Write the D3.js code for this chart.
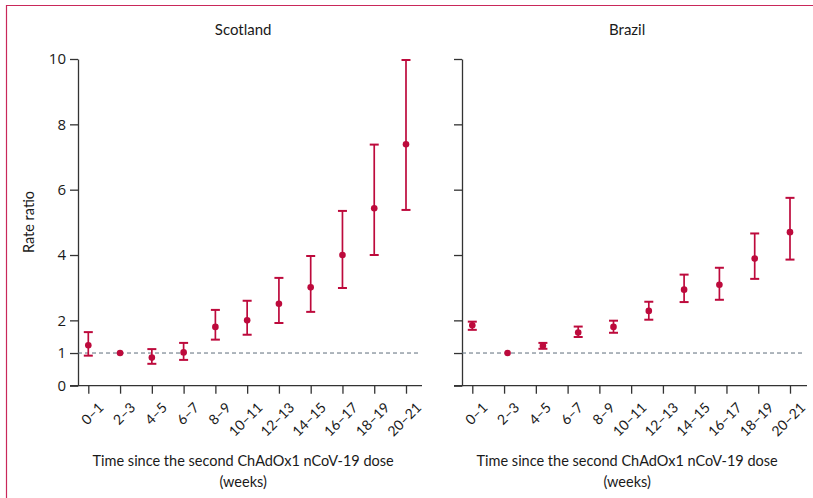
<!DOCTYPE html>
<html>
<head>
<meta charset="utf-8">
<script src="https://cdn.jsdelivr.net/npm/d3@7"></script>
<style>
  body { margin: 0; background: #fff; }
  text { font-family: Lato, "Open Sans", sans-serif; fill: #1a1a1a; }
</style>
</head>
<body>
<div id="chart"></div>
<script>
  // data
  var weeks = ['0\u20131', '2\u20133', '4\u20135', '6\u20137', '8\u20139', '10\u201311',
      '12\u201313', '14\u201315', '16\u201317', '18\u201319', '20\u201321'];
  var yTicks = [0, 1, 2, 4, 6, 8, 10];

  var scotRR = [1.24, 1.00, 0.86, 1.02, 1.80, 2.00, 2.51, 3.01, 4.00, 5.43, 7.39];
  var scotLo = [0.92, null, 0.67, 0.79, 1.41, 1.56, 1.92, 2.26, 2.99, 4.00, 5.38];
  var scotHi = [1.64, null, 1.12, 1.31, 2.32, 2.60, 3.30, 3.97, 5.35, 7.38, 9.97];

  // Brazil has 10 estimates spread over the same axis
  var brazRR = [1.85, 1.00, 1.22, 1.63, 1.80, 2.29, 2.94, 3.09, 3.89, 4.70];
  var brazLo = [1.71, null, 1.13, 1.49, 1.62, 2.02, 2.56, 2.63, 3.27, 3.86];
  var brazHi = [1.96, null, 1.31, 1.81, 1.99, 2.57, 3.40, 3.61, 4.66, 5.75];

  var width = 813, height = 498;
  var red = '#bd0a3c';

  var svg = d3.select('#chart').append('svg')
      .attr('width', width)
      .attr('height', height);

  // frame
  svg.append('path')
      .attr('d', 'M6.5,498V5.5H813')
      .attr('fill', 'none')
      .attr('stroke', '#c9285a')
      .attr('stroke-width', 1.2);

  var y = d3.scaleLinear().domain([0, 10]).range([385.7, 59]);

  var panels = [
      { name: 'Scotland', axisX: 78, right: 422, first: 88.3, last: 406, rr: scotRR, lo: scotLo, hi: scotHi, labels: true },
      { name: 'Brazil', axisX: 462, right: 807, first: 472.3, last: 790, rr: brazRR, lo: brazLo, hi: brazHi, labels: false }
  ];

  panels.forEach(function(p) {
      var g = svg.append('g');
      var x = d3.scalePoint().domain(weeks).range([p.first, p.last]);
      var xp = d3.scalePoint().domain(d3.range(p.rr.length)).range([p.first, p.last]);
      var cx = (p.first + p.last) / 2 - 4;

      // title
      g.append('text')
          .attr('x', cx)
          .attr('y', 35)
          .attr('text-anchor', 'middle')
          .style('font-size', '15px')
          .text(p.name);

      // y axis
      var ya = g.append('g')
          .attr('transform', 'translate(' + p.axisX + ',0)')
          .call(d3.axisLeft(y).tickValues(yTicks).tickSize(8).tickSizeOuter(0).tickPadding(4));
      ya.selectAll('path, line').attr('stroke', '#333').attr('stroke-width', 1.3);
      ya.selectAll('text')
          .style('font-family', '"Open Sans", sans-serif')
          .style('font-size', '15px')
          .attr('fill', '#333');
      if (!p.labels) ya.selectAll('text').remove();

      // x axis
      var xa = g.append('g')
          .attr('transform', 'translate(0,' + y(0) + ')')
          .call(d3.axisBottom(x).tickSize(8).tickSizeOuter(0));
      xa.select('.domain').remove();
      xa.append('line')
          .attr('x1', p.axisX - 8).attr('x2', p.right);
      xa.selectAll('line').attr('stroke', '#333').attr('stroke-width', 1.3);
      xa.selectAll('text')
          .style('font-size', '14px')
          .attr('fill', '#222')
          .attr('text-anchor', 'end')
          .attr('dy', null)
          .attr('transform', 'translate(8,15) rotate(-45)');

      // axis title
      g.append('text')
          .attr('x', cx).attr('y', 466)
          .attr('text-anchor', 'middle')
          .style('font-size', '14.5px')
          .text('Time since the second ChAdOx1 nCoV-19 dose');
      g.append('text')
          .attr('x', cx).attr('y', 487)
          .attr('text-anchor', 'middle')
          .style('font-size', '14.5px')
          .text('(weeks)');

      // reference line at 1
      g.append('line')
          .attr('x1', p.axisX).attr('x2', p.right - 3)
          .attr('y1', y(1)).attr('y2', y(1))
          .attr('stroke', '#5d6d7a')
          .attr('stroke-width', 1)
          .attr('stroke-dasharray', '4,3');

      // error bars
      var idx = d3.range(p.rr.length).filter(function(i) { return p.lo[i] != null; });
      var bars = g.selectAll('.bar').data(idx).enter().append('g');
      bars.append('line')
          .attr('x1', function(i) { return xp(i); })
          .attr('x2', function(i) { return xp(i); })
          .attr('y1', function(i) { return y(p.lo[i]); })
          .attr('y2', function(i) { return y(p.hi[i]); })
          .attr('stroke', red).attr('stroke-width', 1.7);
      ['lo', 'hi'].forEach(function(k) {
          bars.append('line')
              .attr('x1', function(i) { return xp(i) - 4.5; })
              .attr('x2', function(i) { return xp(i) + 4.5; })
              .attr('y1', function(i) { return y(p[k][i]); })
              .attr('y2', function(i) { return y(p[k][i]); })
              .attr('stroke', red).attr('stroke-width', 2);
      });

      // points
      g.selectAll('.pt').data(p.rr).enter().append('circle')
          .attr('cx', function(d, i) { return xp(i); })
          .attr('cy', function(d) { return y(d); })
          .attr('r', 3.3)
          .attr('fill', red);
  });

  // y label
  svg.append('text')
      .attr('transform', 'translate(34,222) rotate(-90)')
      .attr('text-anchor', 'middle')
      .style('font-size', '14.5px')
      .text('Rate ratio');
</script>
</body>
</html>
